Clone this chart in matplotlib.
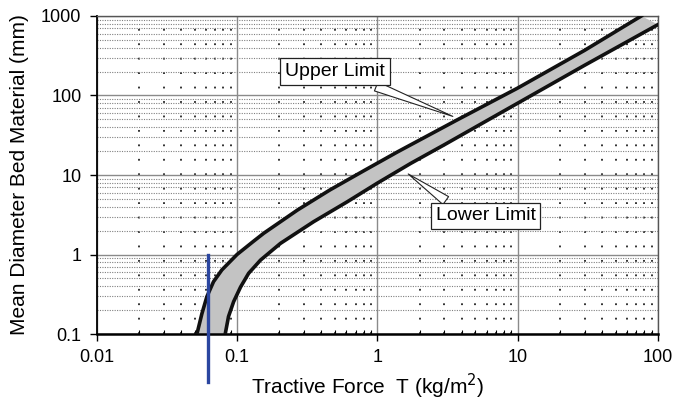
import numpy as np
import matplotlib.pyplot as plt
from matplotlib.ticker import FixedLocator, NullFormatter

plt.rcParams['font.family'] = ['Liberation Sans', 'DejaVu Sans']

# upper limit curve (left edge of band): tractive force (kg/m2), diameter (mm)
upper_T = [0.0518, 0.0562, 0.061, 0.068, 0.078, 0.100, 0.130, 0.155,
           0.27, 0.46, 0.80, 1.39, 3.6, 10.0, 30.0, 76.0]
upper_d = [0.1, 0.18, 0.295, 0.455, 0.64, 1.0, 1.45, 1.85,
           3.63, 6.5, 11.3, 19.5, 48.0, 124.0, 370.0, 1000.0]

# lower limit curve (right edge of band)
lower_T = [0.0824, 0.087, 0.0946, 0.106, 0.121, 0.147, 0.204, 0.352,
           0.61, 1.0, 1.73, 3.0, 10.0, 30.0, 100.0]
lower_d = [0.1, 0.166, 0.255, 0.39, 0.58, 0.85, 1.38, 2.59,
           4.6, 7.9, 14.0, 24.0, 80.0, 240.0, 780.0]

# blue marker line
marker_T = [0.062, 0.062]
marker_d = [1.0, 0.025]

x_ticks = [0.01, 0.1, 1, 10, 100]
x_ticklabels = ['0.01', '0.1', '1', '10', '100']
y_ticks = [0.1, 1, 10, 100, 1000]
y_ticklabels = ['0.1', '1', '10', '100', '1000']

fig = plt.figure(figsize=(6.78, 4.05), dpi=100)
ax = fig.add_axes([0.1426, 0.1753, 0.8279, 0.7852])
ax.set_xscale('log')
ax.set_yscale('log')
ax.set_xlim(0.01, 100)
ax.set_ylim(0.1, 1000)

# grid
minors = np.concatenate([np.arange(2, 10) * 10.0 ** e for e in range(-3, 4)])
ax.xaxis.set_minor_locator(FixedLocator(minors))
ax.yaxis.set_minor_locator(FixedLocator(minors))
ax.xaxis.set_minor_formatter(NullFormatter())
ax.yaxis.set_minor_formatter(NullFormatter())
ax.grid(True, which='major', color='#8a8a8a', lw=1.0)
ax.grid(True, which='minor', axis='y', color='#808080', lw=0.8, ls=(0, (1, 1.2)))
ax.grid(True, which='minor', axis='x', color='#222222', lw=1.3, ls=(0, (1, 7)))
ax.set_axisbelow(True)

# band
poly_x = upper_T + lower_T[::-1]
poly_y = upper_d + lower_d[::-1]
ax.fill(poly_x, poly_y, color='#c3c3c3', lw=0, zorder=2)
ax.plot(upper_T, upper_d, color='#111111', lw=2.6, zorder=3)
ax.plot(lower_T, lower_d, color='#111111', lw=2.6, zorder=3)

ax.plot(marker_T, marker_d, color='#2b46a0', lw=2.4, clip_on=False, zorder=5)

# callouts
box = dict(boxstyle='square,pad=0.25', fc='white', ec='#222222', lw=0.9)
ax.annotate('Upper Limit', xy=(3.6, 53), xytext=(0.50, 200),
            ha='center', va='center', fontsize=14, bbox=box, zorder=6,
            arrowprops=dict(arrowstyle='wedge,tail_width=0.5,shrink_factor=0.5',
                            fc='white', ec='#222222', lw=0.8, relpos=(0.75, 0.0)))
ax.annotate('Lower Limit', xy=(1.6, 10.8), xytext=(5.9, 3.05),
            ha='center', va='center', fontsize=14, bbox=box, zorder=6,
            arrowprops=dict(arrowstyle='wedge,tail_width=0.5,shrink_factor=0.5',
                            fc='white', ec='#222222', lw=0.8, relpos=(0.2, 1.0)))

# axes styling
ax.set_xticks(x_ticks)
ax.set_xticklabels(x_ticklabels)
ax.set_yticks(y_ticks)
ax.set_yticklabels(y_ticklabels)
ax.tick_params(which='major', length=5, width=1.0, labelsize=13, direction='out', pad=6)
ax.tick_params(which='minor', axis='x', length=3, width=0.8, direction='in')
ax.tick_params(which='minor', axis='y', length=0)
for side in ['top', 'right']:
    ax.spines[side].set_color('#555555')
    ax.spines[side].set_linewidth(1.0)
ax.spines['bottom'].set_linewidth(1.8)
ax.spines['left'].set_linewidth(1.3)

ax.set_xlabel('Tractive Force  T (kg/m$^2$)', fontsize=15)
ax.xaxis.set_label_coords(0.482, -0.118)
ax.set_ylabel('Mean Diameter Bed Material (mm)', fontsize=15)
ax.yaxis.set_label_coords(-0.12, 0.5)

fig.savefig('out.png', dpi=100)
